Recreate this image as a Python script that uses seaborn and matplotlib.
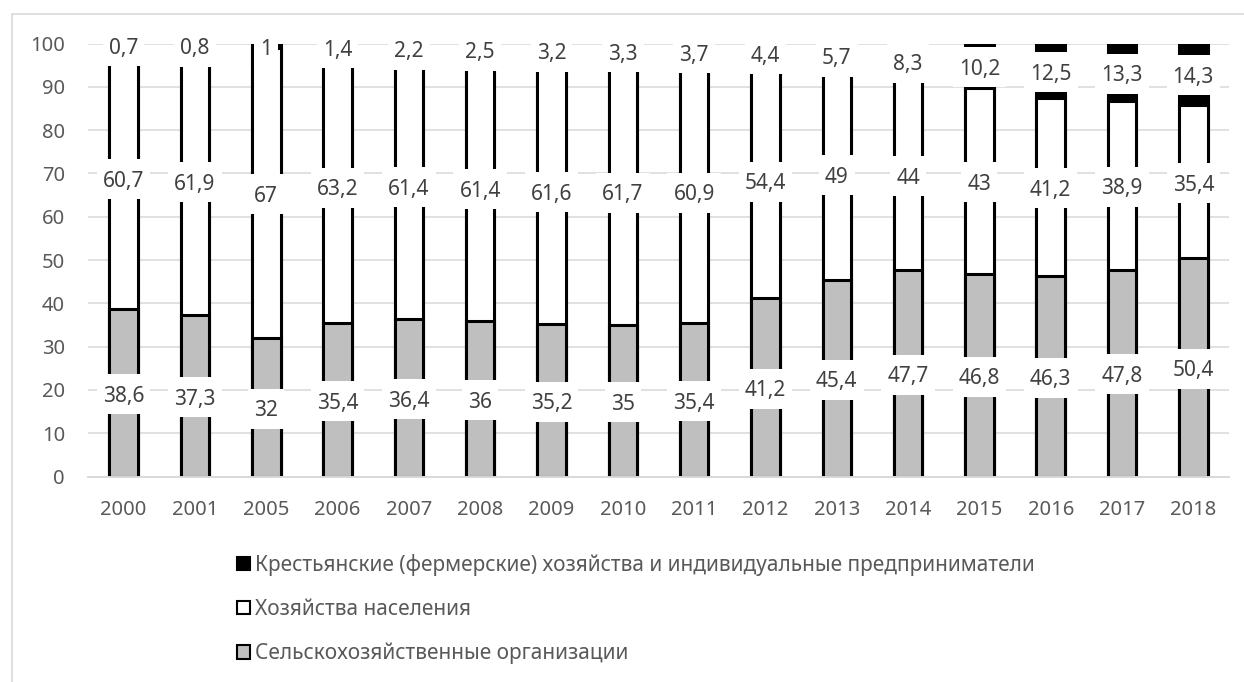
import matplotlib
matplotlib.use("Agg")
import matplotlib.pyplot as plt
import seaborn as sns
import numpy as np
from matplotlib.path import Path
from matplotlib.patches import Patch
from matplotlib.lines import Line2D

years = ["2000", "2001", "2005", "2006", "2007", "2008", "2009", "2010",
         "2011", "2012", "2013", "2014", "2015", "2016", "2017", "2018"]
organizations = [38.6, 37.3, 32, 35.4, 36.4, 36, 35.2, 35, 35.4, 41.2, 45.4, 47.7, 46.8, 46.3, 47.8, 50.4]
households = [60.7, 61.9, 67, 63.2, 61.4, 61.4, 61.6, 61.7, 60.9, 54.4, 49, 44, 43, 41.2, 38.9, 35.4]
farmers = [0.7, 0.8, 1, 1.4, 2.2, 2.5, 3.2, 3.3, 3.7, 4.4, 5.7, 8.3, 10.2, 12.5, 13.3, 14.3]

names = ["Крестьянские (фермерские) хозяйства и индивидуальные предприниматели",
         "Хозяйства населения",
         "Сельскохозяйственные организации"]

sns.set_theme(style="white")
plt.rcParams['font.family'] = ['Noto Sans', 'DejaVu Sans']

W, H = 1244, 682
fig = plt.figure(figsize=(W / 100, H / 100), dpi=100)
ax = fig.add_axes([88 / W, 1 - 476.5 / H, (1229 - 88) / W, (476.5 - 43.5) / H])

org = np.array(organizations)
hh = np.array(households)
fm = np.array(farmers)
lvl2 = org + hh
lvl3 = org + hh + fm

edge_lw = 2.2
common = dict(order=years, width=0.4, edgecolor="black", linewidth=edge_lw,
              saturation=1, errorbar=None, ax=ax, zorder=2)
sns.barplot(x=years, y=list(lvl3), color="black", **common)
sns.barplot(x=years, y=list(lvl2), color="white", **common)
sns.barplot(x=years, y=list(org), color="#bfbfbf", **common)

ax.set_ylim(0, 100)
ax.set_xlim(-0.5, len(years) - 0.5)
ax.set_yticks(range(0, 101, 10))
ax.yaxis.grid(True, color="#d9d9d9", linewidth=1.1, zorder=0)
ax.xaxis.grid(False)
ax.set_axisbelow(True)
for s in ["top", "right", "left"]:
    ax.spines[s].set_visible(False)
ax.spines["bottom"].set_color("#d9d9d9")
ax.spines["bottom"].set_linewidth(1.4)
ax.set_xlabel("")
ax.set_ylabel("")
ax.tick_params(axis="y", length=0, pad=16.5, labelsize=14.5, labelcolor="#595959")
ax.tick_params(axis="x", length=0, pad=17, labelsize=14.5, labelcolor="#595959")


def label_box(x0, y0, width, height, mutation_size):
    px = 0.29 * mutation_size
    h = 1.92 * mutation_size
    cy = y0 + height / 2 + 0.1 * mutation_size
    verts = [(x0 - px, cy - h / 2), (x0 + width + px, cy - h / 2),
             (x0 + width + px, cy + h / 2), (x0 - px, cy + h / 2),
             (x0 - px, cy - h / 2)]
    codes = [Path.MOVETO, Path.LINETO, Path.LINETO, Path.LINETO, Path.CLOSEPOLY]
    return Path(verts, codes)


def fmt(v):
    return f"{v:g}".replace(".", ",")


for i in range(len(years)):
    segs = [(org[i] / 2, org[i]),
            (org[i] + hh[i] / 2, hh[i]),
            (lvl2[i] + fm[i] / 2, fm[i])]
    for yc, v in segs:
        ax.annotate(fmt(v), xy=(i, yc), xytext=(0, -3.5), textcoords="offset pixels",
                    ha="center", va="center", fontsize=15, color="#404040",
                    zorder=6, annotation_clip=False,
                    bbox=dict(boxstyle=label_box, fc="white", ec="none"))

handles = [Patch(facecolor="black", edgecolor="black", linewidth=1.5),
           Patch(facecolor="white", edgecolor="black", linewidth=1.5),
           Patch(facecolor="#bfbfbf", edgecolor="black", linewidth=1.5)]
leg = fig.legend(handles, names, loc="upper left",
                 bbox_to_anchor=(237 / W, 1 - 554 / H), frameon=False,
                 fontsize=15, labelcolor="#595959", handlelength=0.62,
                 handleheight=0.62, handletextpad=0.25, labelspacing=1.1,
                 borderpad=0, borderaxespad=0)

# chart border (left and top)
fig.add_artist(Line2D([12 / W, 12 / W], [0, 1 - 14 / H], color="#d9d9d9", linewidth=1.2))
fig.add_artist(Line2D([12 / W, 1], [1 - 14 / H, 1 - 14 / H], color="#d9d9d9", linewidth=1.2))

fig.savefig("out.png", dpi=100)
